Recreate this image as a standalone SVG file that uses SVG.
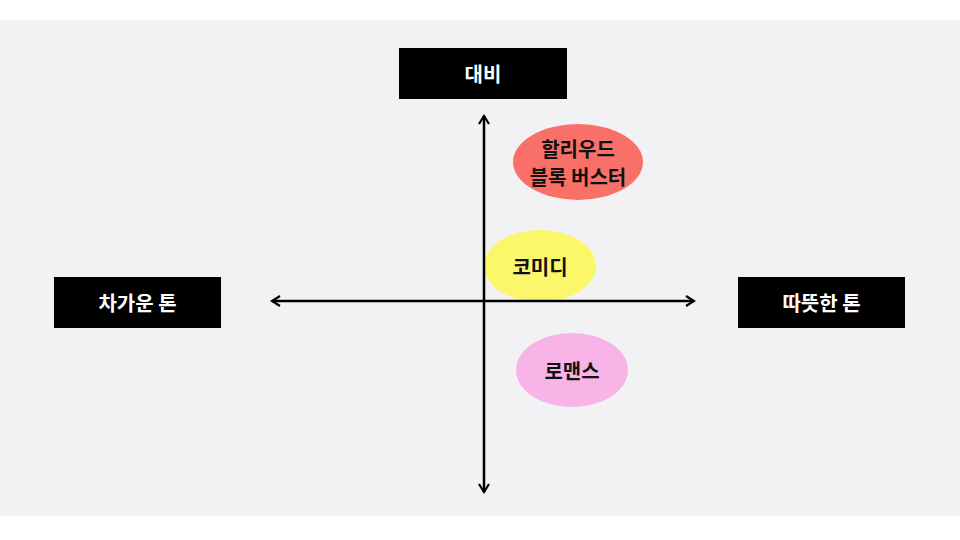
<svg xmlns="http://www.w3.org/2000/svg" width="960" height="540" viewBox="0 0 960 540">
<style>
.lbl{font-family:"Noto Sans CJK KR","Noto Sans",sans-serif;font-weight:bold;font-size:20px;text-anchor:middle;dominant-baseline:central}
.box{fill:#000}
.w{fill:#fff}
.k{fill:#111}
.ax{stroke:#000;stroke-width:2.5;fill:none;marker-start:url(#ah);marker-end:url(#ah)}
</style>
<defs>
<marker id="ah" viewBox="0 0 12 12" refX="10" refY="6" markerWidth="12" markerHeight="12" markerUnits="userSpaceOnUse" orient="auto-start-reverse">
<path d="M2,1 L10,6 L2,11" fill="none" stroke="#000" stroke-width="2.2"/>
</marker>
</defs>
<rect width="960" height="540" fill="#fff"/>
<rect x="0" y="20" width="960" height="496" fill="#f2f2f4"/>
<g id="node-contrast"><rect class="box" x="399" y="48" width="168" height="51"/><text class="lbl w" x="483" y="73">대비</text></g>
<g id="node-cool"><rect class="box" x="54" y="277" width="167" height="51"/><text class="lbl w" x="137.5" y="302">차가운 톤</text></g>
<g id="node-warm"><rect class="box" x="738" y="277" width="167" height="51"/><text class="lbl w" x="821.5" y="302">따뜻한 톤</text></g>
<g id="node-hollywood"><ellipse cx="578" cy="162" rx="65" ry="38" fill="#f87068"/><text class="lbl k" x="578" y="148">할리우드</text><text class="lbl k" x="578" y="176">블록 버스터</text></g>
<g id="node-comedy"><ellipse cx="540" cy="266" rx="56" ry="36" fill="#faf86a"/><text class="lbl k" x="540" y="266">코미디</text></g>
<g id="node-romance"><ellipse cx="572" cy="370" rx="56" ry="37" fill="#f8b4e6"/><text class="lbl k" x="572" y="370">로맨스</text></g>
<g id="connectors">
<line class="ax" x1="484" y1="492" x2="484" y2="116"/>
<line class="ax" x1="272" y1="301" x2="694" y2="301"/>
</g>
</svg>
